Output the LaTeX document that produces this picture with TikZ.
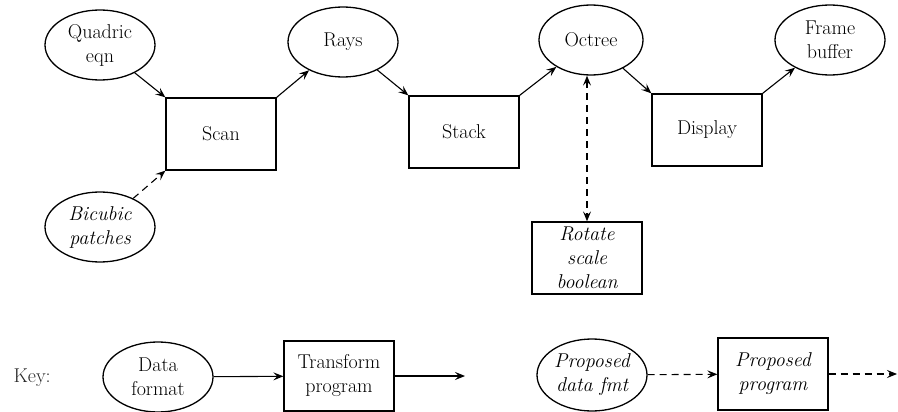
\documentclass[tikz,border=0pt]{standalone}
\usetikzlibrary{shapes.geometric,arrows.meta}

\def\boxW{110}
\def\boxH{72}

\begin{document}
\begin{tikzpicture}[x=1pt, y=-1pt,
    font=\fontsize{20}{24}\selectfont,
    data/.style={ellipse, draw, line width=1.3pt, minimum width=\boxW pt,
      minimum height=70pt, inner sep=0pt, align=center},
    prog/.style={rectangle, draw, line width=1.3pt, minimum width=\boxW pt,
      minimum height=\boxH pt, inner sep=0pt, align=center},
    flow/.style={line width=1.1pt, -{Stealth[length=10pt, width=8pt, inset=4pt]}},
    proposed/.style={flow, dash pattern=on 7pt off 5pt},
  ]
  \useasboundingbox (0,0) rectangle (898,412);

  % -- pipeline
  \node[data] (quadric) at (100,45) {Quadric\\eqn};
  \node[data] (bicubic) at (100,227) {\itshape Bicubic\\\itshape patches};
  \node[prog] (scan) at (221,134) {Scan};
  \node[data] (rays) at (343,42) {Rays};
  \node[prog] (stack) at (464,132) {Stack};
  \node[data, minimum width=104pt] (octree) at (591,40) {Octree};
  \node[prog] (display) at (707,130) {Display};
  \node[data] (frame) at (830,40) {Frame\\buffer};
  \node[prog] (rotate) at (587,258) {\itshape Rotate\\\itshape scale\\\itshape boolean};

  \draw[flow] (quadric) -- (scan.north west);
  \draw[proposed] (bicubic) -- (scan.south west);
  \draw[flow] (scan.north east) -- (rays);
  \draw[flow] (rays) -- (stack.north west);
  \draw[flow] (stack.north east) -- (octree);
  \draw[flow] (octree) -- (display.north west);
  \draw[flow] (display.north east) -- (frame);
  \draw[proposed, {Stealth[length=10pt, width=8pt, inset=4pt]}-{Stealth[length=10pt, width=8pt, inset=4pt]}]
    (rotate.north |- octree.south) -- (rotate.north);

  % -- key
  \node[anchor=west, text=black!85] (key) at (10,378) {Key:};
  \node[data] (dataf) at (158,377) {Data\\format};
  \node[prog, minimum height=70pt] (transf) at (339,376) {Transform\\program};
  \coordinate (transfend) at (465,376);
  \node[data, minimum height=72pt] (propdata) at (592,375) {\itshape Proposed\\\itshape data fmt};
  \node[prog] (propprog) at (773,374) {\itshape Proposed\\\itshape program};
  \coordinate (propend) at (897,374);

  \draw[flow] (dataf) -- (transf);
  \draw[flow] (transf) -- (transfend);
  \draw[proposed] (propdata) -- (propprog);
  \draw[proposed] (propprog) -- (propend);

\end{tikzpicture}
\end{document}
